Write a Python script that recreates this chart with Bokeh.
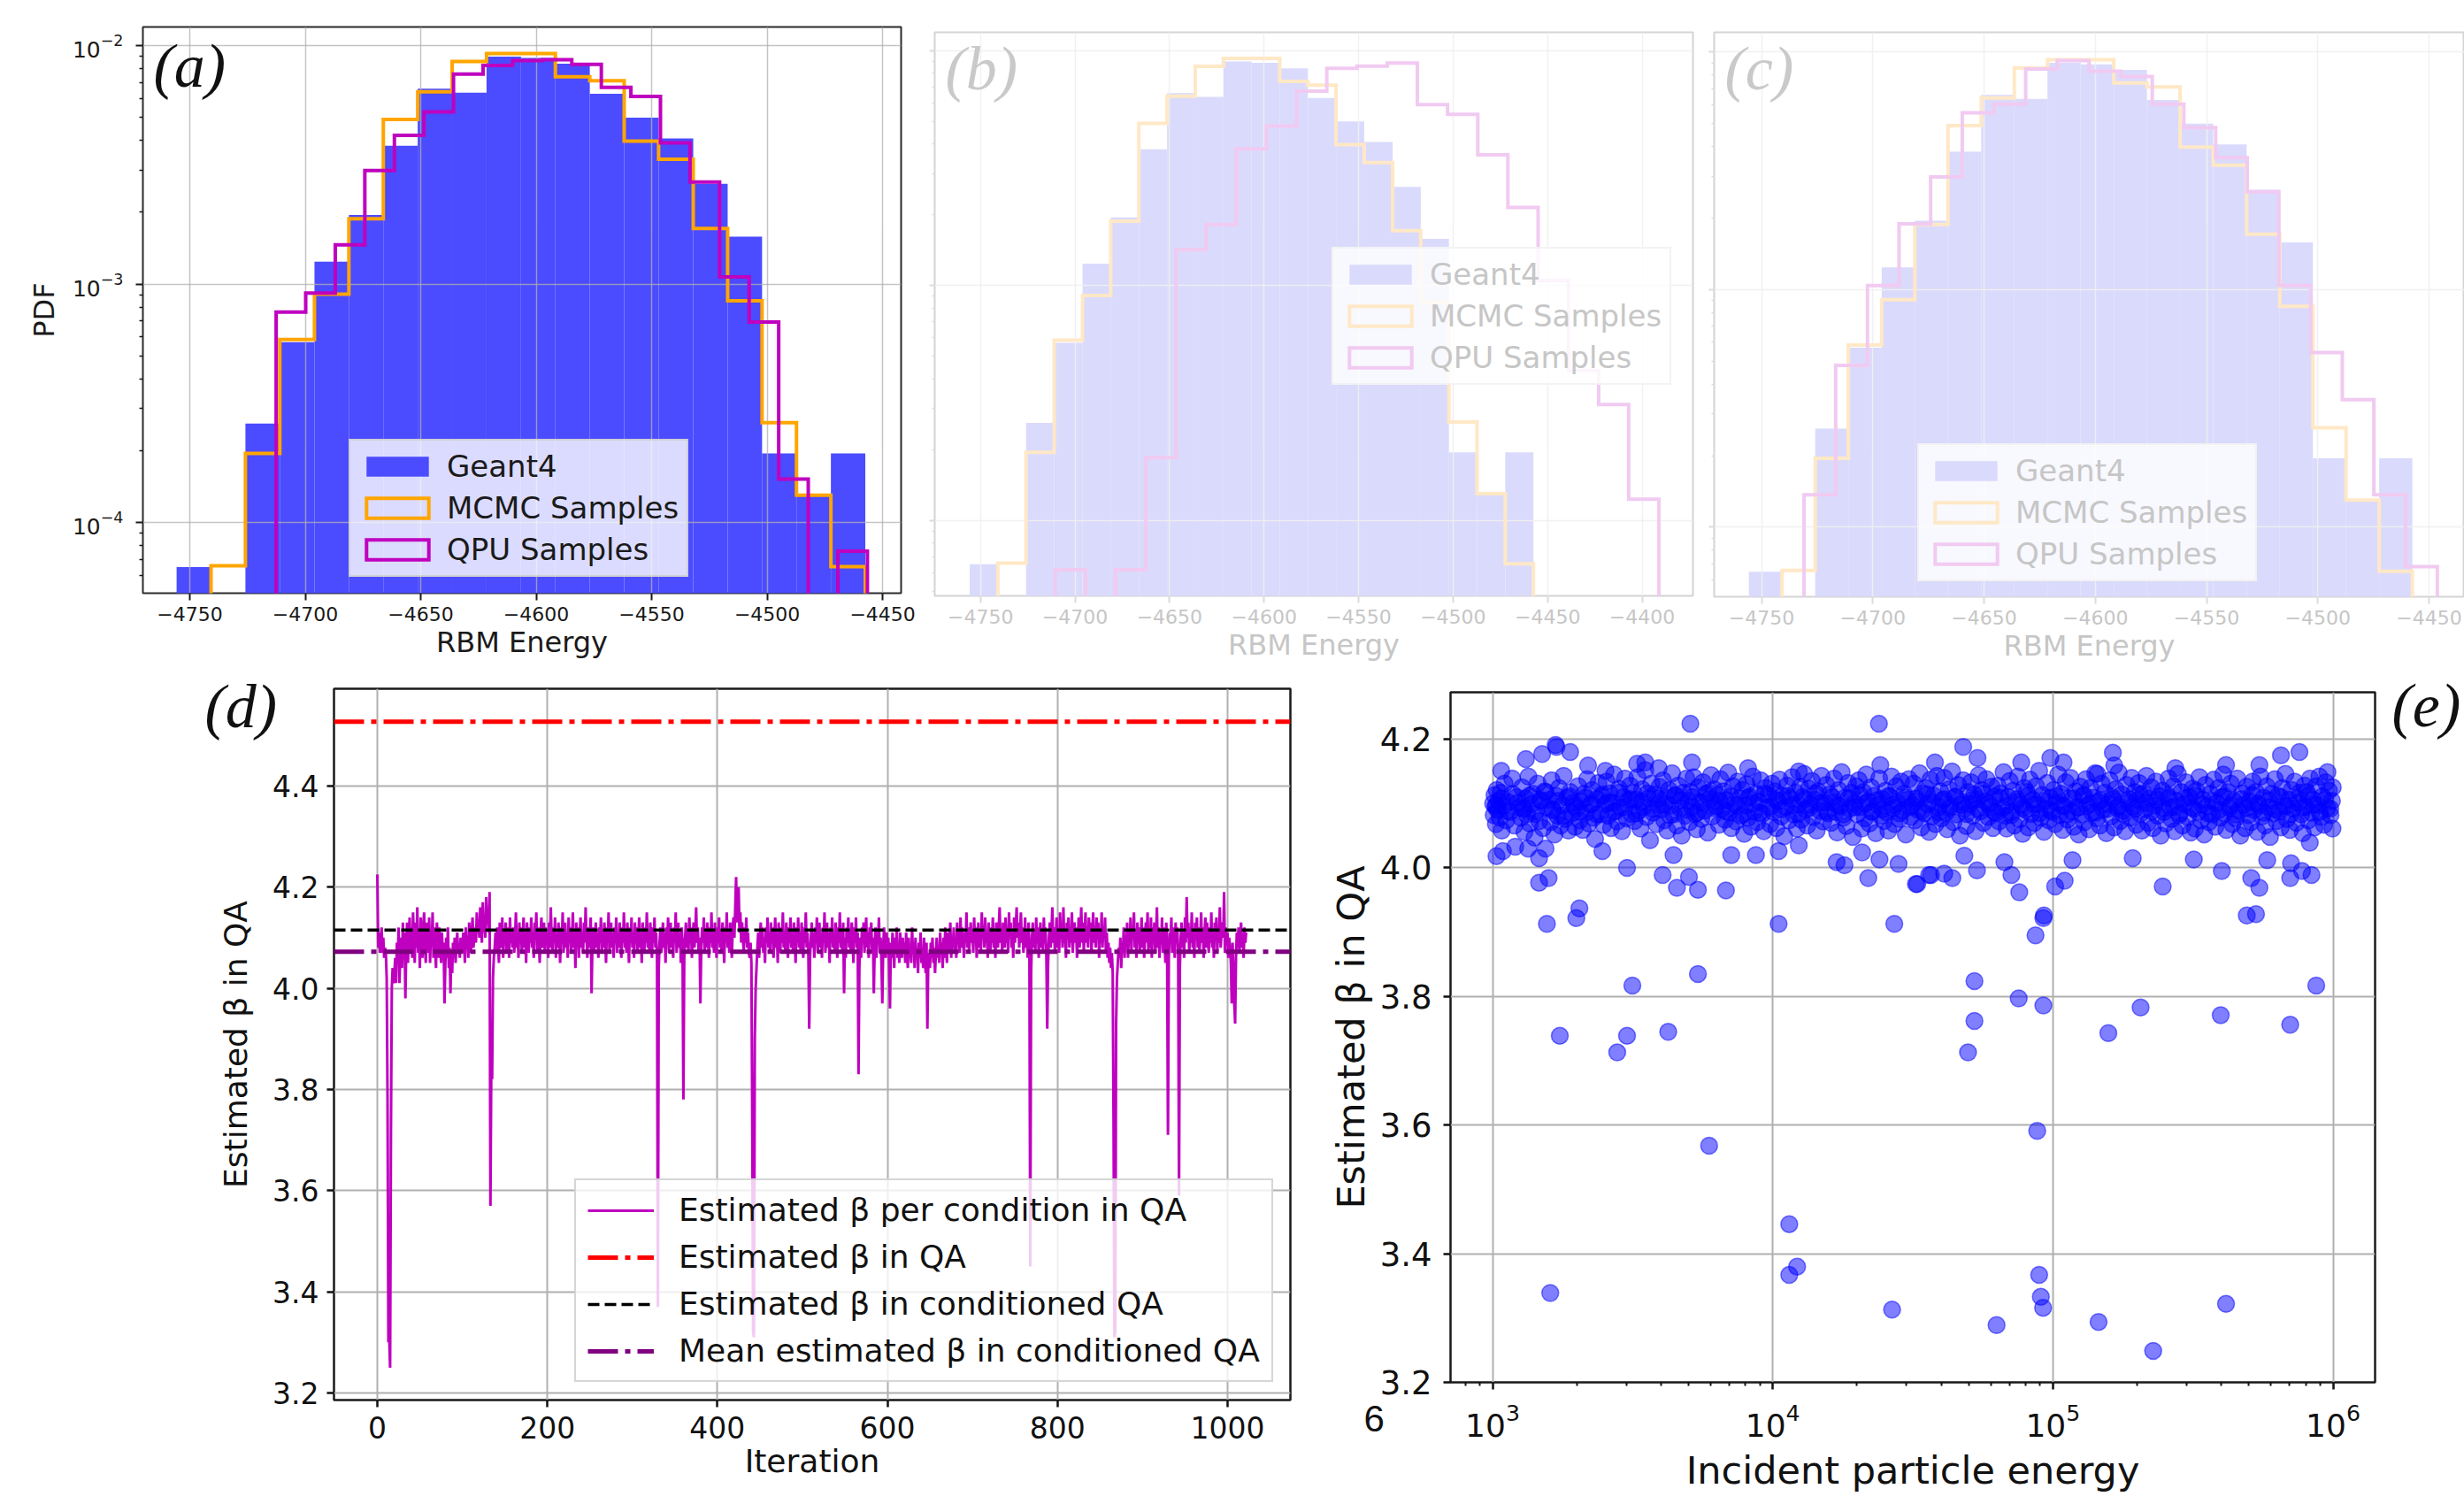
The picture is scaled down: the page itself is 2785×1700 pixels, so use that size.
from bokeh.plotting import figure
from bokeh.models import (ColumnDataSource, Range1d, FixedTicker, Label, Legend,
                          LegendItem, NumeralTickFormatter)
from bokeh.layouts import row, column
from bokeh.embed import file_html
from bokeh.resources import INLINE

# ---------------------------------------------------------------- data
geant4_edges = [-4755.7, -4740.8, -4725.9, -4711.0, -4696.0, -4681.1, -4666.2, -4651.3,
                -4636.4, -4621.5, -4606.6, -4591.7, -4576.8, -4561.9, -4547.0, -4532.0,
                -4517.1, -4502.2, -4487.3, -4472.4, -4457.5]
geant4_pdf = [6.5e-5, 0, 2.6e-4, 5.7e-4, 1.24e-3, 1.95e-3, 3.8e-3, 6.6e-3, 6.35e-3, 9.0e-3,
              8.87e-3, 8.4e-3, 6.28e-3, 4.99e-3, 4.08e-3, 2.63e-3, 1.58e-3, 1.95e-4, 1.30e-4, 1.95e-4]
mcmc_pdf = [0, 6.58e-5, 1.95e-4, 5.85e-4, 9.06e-4, 1.88e-3, 4.9e-3, 6.4e-3, 8.57e-3, 9.27e-3,
            9.27e-3, 7.4e-3, 7.13e-3, 3.98e-3, 3.34e-3, 1.71e-3, 8.5e-4, 2.62e-4, 1.30e-4, 6.53e-5]

qpu_a_edges = [-4712.6, -4699.8, -4687.0, -4674.2, -4661.4, -4648.6, -4635.8, -4623.0, -4610.2,
               -4597.4, -4584.6, -4571.8, -4559.0, -4546.2, -4533.4, -4520.6, -4507.8, -4495.0,
               -4482.2, -4469.4, -4456.6]
qpu_a_pdf = [7.63e-4, 9.16e-4, 1.46e-3, 2.99e-3, 4.20e-3, 5.27e-3, 7.59e-3, 8.26e-3, 8.66e-3, 8.72e-3,
             8.34e-3, 6.68e-3, 6.12e-3, 3.91e-3, 2.68e-3, 1.07e-3, 6.93e-4, 1.52e-4, 0, 7.57e-5]

qpu_b_edges = [-4710.5, -4694.5, -4678.6, -4662.6, -4646.6, -4630.7, -4614.7, -4598.7, -4582.7,
               -4566.8, -4550.8, -4534.8, -4518.9, -4502.9, -4486.9, -4471.0, -4455.0, -4439.0,
               -4423.0, -4407.1, -4391.1]
qpu_b_pdf = [6.16e-5, 0, 6.16e-5, 1.85e-4, 1.42e-3, 1.82e-3, 3.82e-3, 4.77e-3, 6.73e-3, 8.41e-3,
             8.59e-3, 8.85e-3, 5.89e-3, 5.35e-3, 3.60e-3, 2.15e-3, 1.05e-3, 4.35e-4, 3.11e-4, 1.23e-4]

qpu_c_edges = [-4730.9, -4716.7, -4702.4, -4688.2, -4674.0, -4659.8, -4645.5, -4631.3, -4617.1,
               -4602.8, -4588.6, -4574.4, -4560.2, -4545.9, -4531.7, -4517.5, -4503.2, -4489.0,
               -4474.8, -4460.6, -4446.3]
qpu_c_pdf = [1.37e-4, 4.8e-4, 1.04e-3, 1.89e-3, 2.98e-3, 5.55e-3, 6.03e-3, 8.47e-3, 9.2e-3, 8.3e-3,
             7.89e-3, 6.03e-3, 4.8e-3, 3.59e-3, 2.58e-3, 1.04e-3, 5.43e-4, 3.44e-4, 1.37e-4, 6.82e-5]

hist_labels = ["Geant4", "MCMC Samples", "QPU Samples"]
energy_ticks_a = [-4750, -4700, -4650, -4600, -4550, -4500, -4450]
energy_ticks_b = [-4750, -4700, -4650, -4600, -4550, -4500, -4450, -4400]
pdf_ticks = [1e-4, 1e-3, 1e-2]

# panel (d)
beta_qa = 4.527
beta_conditioned_qa = 4.115
beta_mean_conditioned = 4.072
beta_per_condition = [
    4.225, 4.08, 4.11, 4.07, 4.09, 4.12, 4.07, 4.10, 4.06, 4.08, 4.07, 4.02, 3.78, 3.30, 3.31, 3.25, 3.72, 4.00, 4.04, 4.01,
    4.03, 4.06, 4.01, 4.09, 4.05, 4.12, 4.01, 4.07, 4.10, 4.04, 4.13, 4.06, 4.11, 3.98, 4.08, 4.13, 4.05, 4.10, 4.14, 4.07,
    4.12, 4.06, 4.15, 4.09, 4.05, 4.13, 4.08, 4.16, 4.07, 4.11, 4.04, 4.14, 4.09, 4.06, 4.12, 4.15, 4.08, 4.05, 4.13, 4.10,
    4.07, 4.14, 4.05, 4.11, 4.09, 4.15, 4.06, 4.12, 4.08, 4.04, 4.13, 4.10, 4.06, 4.12, 4.08, 4.05, 4.11, 4.07, 4.09, 3.97,
    4.05, 4.10, 4.06, 4.12, 4.04, 4.08, 3.99, 4.07, 4.03, 4.09, 4.06, 4.10, 4.05, 4.08, 4.11, 4.07, 4.09, 4.06, 4.10, 4.08,
    4.07, 4.11, 4.09, 4.05, 4.12, 4.08, 4.10, 4.06, 4.13, 4.09, 4.07, 4.11, 4.14, 4.08, 4.10, 4.12, 4.09, 4.15, 4.11, 4.13,
    4.10, 4.16, 4.12, 4.09, 4.17, 4.11, 4.14, 4.10, 4.18, 4.13, 4.15, 4.11, 4.19, 3.57, 3.84, 3.82, 4.02, 4.06, 4.08, 4.11,
    4.07, 4.12, 4.09, 4.05, 4.13, 4.10, 4.08, 4.14, 4.06, 4.11, 4.09, 4.13, 4.07, 4.12, 4.10, 4.06, 4.14, 4.09, 4.11, 4.08,
    4.12, 4.07, 4.10, 4.15, 4.08, 4.11, 4.06, 4.13, 4.09, 4.12, 4.07, 4.10, 4.14, 4.08, 4.11, 4.05, 4.13, 4.10, 4.07, 4.12,
    4.09, 4.14, 4.08, 4.11, 4.06, 4.13, 4.10, 4.15, 4.07, 4.12, 4.09, 4.05, 4.11, 4.14, 4.08, 4.10, 4.13, 4.07, 4.12, 4.09,
    4.11, 4.06, 4.13, 4.08, 4.16, 4.10, 4.07, 4.12, 4.09, 4.14, 4.06, 4.11, 4.08, 4.13, 4.10, 4.05, 4.12, 4.09, 4.15, 4.07,
    4.10, 4.13, 4.08, 4.11, 4.06, 4.14, 4.09, 4.12, 4.07, 4.10, 4.15, 4.08, 4.11, 4.04, 4.13, 4.09, 4.12, 4.06, 4.10, 4.14,
    4.08, 4.11, 4.07, 4.13, 4.09, 4.16, 4.10, 4.06, 4.12, 4.08, 4.11, 4.14, 3.99, 4.09, 4.12, 4.07, 4.10, 4.13, 4.08, 4.11,
    4.06, 4.12, 4.09, 4.14, 4.07, 4.11, 4.08, 4.13, 4.10, 4.05, 4.12, 4.09, 4.15, 4.07, 4.10, 4.13, 4.08, 4.11, 4.06, 4.12,
    4.09, 4.14, 4.07, 4.11, 4.08, 4.13, 4.10, 4.06, 4.12, 4.09, 4.15, 4.08, 4.11, 4.07, 4.13, 4.10, 4.05, 4.12, 4.09, 4.14,
    4.08, 4.11, 4.06, 4.13, 4.09, 4.12, 4.07, 4.10, 4.14, 4.08, 4.11, 4.05, 4.13, 4.10, 4.07, 4.12, 4.09, 4.15, 4.08, 4.11,
    4.07, 4.13, 4.10, 4.06, 4.12, 4.09, 4.14, 4.08, 4.11, 4.06, 3.37, 4.04, 4.09, 4.12, 4.07, 4.10, 4.13, 4.08, 4.11, 4.05,
    4.12, 4.09, 4.14, 4.07, 4.10, 4.13, 4.08, 4.11, 4.06, 4.12, 4.09, 4.15, 4.07, 4.10, 4.13, 4.08, 4.11, 4.05, 4.12, 4.09,
    3.78, 4.06, 4.10, 4.13, 4.08, 4.11, 4.07, 4.14, 4.09, 4.12, 4.06, 4.10, 4.13, 4.08, 4.11, 4.16, 4.09, 4.12, 4.07, 4.10,
    3.97, 4.08, 4.12, 4.09, 4.14, 4.07, 4.11, 4.08, 4.13, 4.10, 4.06, 4.12, 4.09, 4.15, 4.08, 4.11, 4.07, 4.13, 4.10, 4.06,
    4.12, 4.09, 4.14, 4.08, 4.11, 4.07, 4.13, 4.10, 4.05, 4.12, 4.09, 4.15, 4.08, 4.11, 4.07, 4.13, 4.10, 4.06, 4.12, 4.14,
    4.10, 4.16, 4.22, 4.13, 4.18, 4.20, 4.11, 4.15, 4.09, 4.13, 4.10, 4.07, 4.12, 4.09, 4.14, 4.08, 4.11, 4.07, 4.06, 4.09,
    4.05, 3.75, 3.32, 3.31, 3.90, 4.00, 4.04, 4.08, 4.11, 4.06, 4.10, 4.13, 4.08, 4.12, 4.07, 4.10, 4.05, 4.12, 4.09, 4.14,
    4.08, 4.11, 4.07, 4.13, 4.09, 4.12, 4.06, 4.10, 4.14, 4.08, 4.11, 4.05, 4.13, 4.10, 4.07, 4.12, 4.09, 4.15, 4.08, 4.11,
    4.07, 4.13, 4.10, 4.06, 4.12, 4.09, 4.14, 4.08, 4.11, 4.07, 4.13, 4.10, 4.05, 4.12, 4.09, 4.14, 4.08, 4.11, 4.07, 4.13,
    4.10, 4.06, 4.12, 4.09, 4.15, 4.08, 4.11, 4.07, 3.92, 4.06, 4.10, 4.13, 4.08, 4.11, 4.06, 4.12, 4.09, 4.14, 4.07, 4.10,
    4.13, 4.08, 4.11, 4.06, 4.12, 4.09, 4.15, 4.07, 4.10, 4.13, 4.08, 4.11, 4.05, 4.12, 4.09, 4.14, 4.08, 4.11, 4.07, 4.13,
    4.10, 4.06, 4.12, 4.09, 4.15, 4.08, 4.11, 4.07, 4.13, 3.99, 4.10, 4.06, 4.12, 4.09, 4.14, 4.08, 4.11, 4.07, 4.13, 4.10,
    4.05, 4.12, 4.09, 4.14, 4.08, 4.11, 3.83, 4.04, 4.10, 4.06, 4.12, 4.09, 4.13, 4.07, 4.10, 4.14, 4.08, 4.11, 4.06, 4.12,
    4.09, 4.13, 4.07, 4.10, 3.99, 4.08, 4.12, 4.06, 4.11, 4.09, 4.14, 4.07, 4.10, 4.05, 3.97, 4.08, 4.12, 4.09, 4.06, 4.11,
    4.07, 4.10, 4.05, 3.96, 4.09, 4.06, 4.11, 4.08, 4.04, 4.10, 4.07, 4.12, 4.06, 4.09, 4.05, 4.11, 4.08, 4.06, 4.10, 4.07,
    4.09, 4.05, 4.11, 4.07, 4.04, 4.10, 4.06, 4.08, 4.05, 4.12, 4.07, 4.09, 4.04, 4.10, 4.06, 4.08, 4.03, 4.09, 4.06, 4.11,
    4.05, 4.08, 4.04, 4.10, 4.06, 4.03, 4.09, 3.92, 4.05, 4.07, 4.04, 4.09, 4.06, 4.10, 4.05, 4.08, 4.03, 4.07, 4.10, 4.06,
    4.08, 4.05, 4.11, 4.07, 4.09, 4.04, 4.10, 4.06, 4.12, 4.08, 4.05, 4.11, 4.07, 4.09, 4.13, 4.06, 4.10, 4.08, 4.12, 4.07,
    4.10, 4.06, 4.13, 4.09, 4.11, 4.07, 4.14, 4.08, 4.12, 4.10, 4.06, 4.11, 4.09, 4.15, 4.08, 4.12, 4.07, 4.10, 4.13, 4.09,
    4.11, 4.07, 4.14, 4.09, 4.12, 4.06, 4.10, 4.13, 4.08, 4.11, 4.07, 4.15, 4.10, 4.12, 4.08, 4.14, 4.09, 4.11, 4.06, 4.13,
    4.10, 4.07, 4.12, 4.09, 4.14, 4.08, 4.11, 4.06, 4.13, 4.10, 4.08, 4.12, 4.16, 4.09, 4.11, 4.07, 4.13, 4.10, 4.08, 4.14,
    4.09, 4.12, 4.07, 4.15, 4.10, 4.13, 4.08, 4.11, 4.06, 4.14, 4.09, 4.12, 4.16, 4.10, 4.13, 4.08, 4.11, 4.15, 4.09, 4.12,
    4.07, 4.10, 4.14, 4.08, 4.11, 4.06, 4.13, 4.09, 3.45, 4.03, 4.10, 4.13, 4.08, 4.11, 4.07, 4.14, 4.09, 4.12, 4.06, 4.10,
    4.13, 4.08, 4.11, 4.07, 4.14, 4.09, 4.12, 4.06, 3.92, 4.05, 4.10, 4.13, 4.08, 4.11, 4.16, 4.09, 4.12, 4.07, 4.10, 4.14,
    4.08, 4.11, 4.07, 4.15, 4.10, 4.12, 4.08, 4.16, 4.09, 4.11, 4.06, 4.13, 4.10, 4.14, 4.08, 4.12, 4.09, 4.15, 4.07, 4.11,
    4.13, 4.09, 4.12, 4.06, 4.10, 4.14, 4.08, 4.11, 4.16, 4.09, 4.13, 4.07, 4.11, 4.15, 4.09, 4.12, 4.08, 4.14, 4.10, 4.13,
    4.07, 4.11, 4.15, 4.09, 4.12, 4.08, 4.14, 4.10, 4.13, 4.06, 4.11, 4.09, 4.15, 4.08, 4.12, 4.10, 4.14, 4.07, 4.11, 4.06,
    4.09, 4.05, 4.08, 4.04, 4.07, 4.03, 3.74, 3.31, 3.32, 3.93, 4.02, 4.05, 4.08, 4.06, 4.10, 4.04, 4.09, 4.07, 4.12, 4.06,
    4.10, 4.08, 4.13, 4.06, 4.11, 4.09, 4.14, 4.07, 4.12, 4.10, 4.15, 4.08, 4.11, 4.06, 4.13, 4.09, 4.12, 4.07, 4.10, 4.14,
    4.08, 4.12, 4.06, 4.10, 4.13, 4.09, 4.15, 4.07, 4.11, 4.08, 4.14, 4.06, 4.12, 4.09, 4.13, 4.07, 4.10, 4.16, 4.08, 4.12,
    4.06, 4.11, 4.09, 4.14, 4.07, 4.12, 4.10, 4.05, 4.13, 4.08, 3.71, 4.06, 4.11, 4.09, 4.14, 4.07, 4.12, 4.10, 4.06, 4.13,
    4.09, 4.12, 4.07, 3.59, 4.04, 4.10, 4.13, 4.08, 4.11, 4.06, 4.14, 4.09, 4.18, 4.10, 4.13, 4.07, 4.12, 4.09, 4.15, 4.08,
    4.11, 4.06, 4.13, 4.10, 4.14, 4.08, 4.12, 4.07, 4.10, 4.15, 4.09, 4.12, 4.06, 4.11, 4.14, 4.08, 4.13, 4.10, 4.07, 4.12,
    4.09, 4.15, 4.08, 4.11, 4.06, 4.13, 4.10, 4.14, 4.07, 4.12, 4.09, 4.16, 4.08, 4.11, 4.13, 4.10, 4.19, 4.07, 4.12, 4.09,
    4.11, 4.06, 4.10, 4.08, 4.05, 3.97, 4.09, 4.04, 3.97, 3.93, 4.06, 4.11, 4.08, 4.12, 4.07, 4.10, 4.13, 4.08, 4.11, 4.06,
    4.12, 4.09, 4.11,
]
iteration_limits = (-51, 1074)
iteration_ticks = [0, 200, 400, 600, 800, 1000]
beta_ticks = [3.2, 3.4, 3.6, 3.8, 4.0, 4.2, 4.4]
d_labels = ["Estimated \u03b2 per condition in QA", "Estimated \u03b2 in QA",
            "Estimated \u03b2 in conditioned QA", "Mean estimated \u03b2 in conditioned QA"]

# panel (e): (log10 incident energy, estimated beta)
band_points = [
    (3.002,4.100),(3.004,4.082),(3.007,4.113),(3.010,4.095),(3.012,4.068),(3.015,4.121),(3.018,4.090),(3.021,4.104),(3.025,4.078),(3.029,4.117),(3.033,4.058),(3.038,4.096),(3.043,4.131),(3.049,4.074),(3.055,4.102),(3.062,4.087),(3.070,4.139),(3.078,4.066),(3.086,4.110),(3.094,4.093),
    (3.101,4.078),(3.105,4.125),(3.109,4.091),(3.114,4.056),(3.118,4.108),(3.123,4.083),(3.128,4.142),(3.133,4.069),(3.139,4.099),(3.144,4.115),(3.150,4.047),(3.155,4.088),(3.161,4.131),(3.167,4.073),(3.173,4.104),(3.180,4.062),(3.186,4.119),(3.193,4.094),
    (3.202,4.106),(3.207,4.071),(3.211,4.136),(3.216,4.089),(3.221,4.052),(3.226,4.112),(3.232,4.081),(3.237,4.124),(3.243,4.066),(3.248,4.097),(3.254,4.143),(3.259,4.076),(3.265,4.109),(3.271,4.058),(3.277,4.118),(3.283,4.085),(3.289,4.101),(3.295,4.064),
    (3.301,4.092),(3.306,4.127),(3.311,4.074),(3.316,4.103),(3.322,4.059),(3.327,4.115),(3.333,4.086),(3.338,4.138),(3.344,4.069),(3.349,4.098),(3.355,4.121),(3.361,4.078),(3.366,4.045),(3.372,4.107),(3.378,4.132),(3.384,4.083),(3.390,4.111),(3.396,4.067),
    (3.403,4.099),(3.407,4.134),(3.412,4.081),(3.418,4.116),(3.423,4.062),(3.428,4.101),(3.434,4.145),(3.439,4.088),(3.445,4.072),(3.451,4.123),(3.456,4.094),(3.462,4.057),(3.468,4.110),(3.473,4.139),(3.479,4.077),(3.485,4.105),(3.491,4.128),(3.497,4.084),
    (3.502,4.117),(3.507,4.073),(3.512,4.106),(3.517,4.141),(3.523,4.089),(3.528,4.061),(3.534,4.122),(3.539,4.095),(3.545,4.152),(3.550,4.079),(3.556,4.108),(3.562,4.043),(3.567,4.131),(3.573,4.086),(3.579,4.114),(3.585,4.068),(3.590,4.099),(3.596,4.126),
    (3.603,4.091),(3.608,4.136),(3.613,4.074),(3.619,4.109),(3.624,4.058),(3.630,4.121),(3.635,4.097),(3.641,4.147),(3.646,4.083),(3.652,4.112),(3.658,4.066),(3.663,4.128),(3.669,4.093),(3.675,4.050),(3.681,4.117),(3.686,4.081),(3.692,4.139),(3.698,4.104),
    (3.702,4.071),(3.707,4.118),(3.712,4.095),(3.718,4.141),(3.723,4.084),(3.729,4.060),(3.734,4.125),(3.740,4.102),(3.745,4.076),(3.751,4.133),(3.757,4.089),(3.762,4.115),(3.768,4.055),(3.774,4.107),(3.780,4.144),(3.785,4.080),(3.791,4.122),(3.797,4.096),
    (3.803,4.113),(3.808,4.067),(3.813,4.138),(3.819,4.092),(3.824,4.119),(3.830,4.075),(3.835,4.105),(3.841,4.148),(3.846,4.086),(3.852,4.062),(3.858,4.127),(3.863,4.099),(3.869,4.072),(3.875,4.134),(3.881,4.108),(3.886,4.081),(3.892,4.121),(3.898,4.053),
    (3.902,4.097),(3.907,4.130),(3.912,4.078),(3.918,4.111),(3.923,4.064),(3.929,4.142),(3.934,4.088),(3.940,4.116),(3.945,4.071),(3.951,4.103),(3.957,4.136),(3.962,4.084),(3.968,4.057),(3.974,4.124),(3.980,4.095),(3.985,4.113),(3.991,4.068),(3.997,4.131),
    (4.003,4.087),(4.008,4.119),(4.013,4.062),(4.019,4.104),(4.024,4.137),(4.030,4.080),(4.035,4.112),(4.041,4.049),(4.046,4.095),(4.052,4.128),(4.058,4.074),(4.063,4.108),(4.069,4.141),(4.075,4.083),(4.081,4.117),(4.086,4.061),(4.092,4.099),(4.098,4.126),
    (4.102,4.075),(4.107,4.110),(4.112,4.146),(4.118,4.091),(4.123,4.066),(4.129,4.123),(4.134,4.098),(4.140,4.135),(4.145,4.079),(4.151,4.106),(4.157,4.058),(4.162,4.119),(4.168,4.089),(4.174,4.143),(4.180,4.072),(4.185,4.101),(4.191,4.129),(4.197,4.085),
    (4.203,4.114),(4.208,4.070),(4.213,4.102),(4.219,4.139),(4.224,4.087),(4.230,4.055),(4.235,4.121),(4.241,4.096),(4.246,4.149),(4.252,4.078),(4.258,4.109),(4.263,4.065),(4.269,4.132),(4.275,4.092),(4.281,4.117),(4.286,4.048),(4.292,4.100),(4.298,4.127),
    (4.302,4.083),(4.307,4.136),(4.312,4.094),(4.318,4.061),(4.323,4.118),(4.329,4.077),(4.334,4.145),(4.340,4.103),(4.345,4.069),(4.351,4.125),(4.357,4.088),(4.362,4.112),(4.368,4.054),(4.374,4.098),(4.380,4.139),(4.385,4.081),(4.391,4.107),(4.397,4.073),
    (4.403,4.120),(4.408,4.086),(4.413,4.058),(4.419,4.111),(4.424,4.142),(4.430,4.093),(4.435,4.068),(4.441,4.127),(4.446,4.101),(4.452,4.076),(4.458,4.134),(4.463,4.089),(4.469,4.115),(4.475,4.052),(4.481,4.106),(4.486,4.138),(4.492,4.079),(4.498,4.097),
    (4.503,4.131),(4.508,4.074),(4.513,4.108),(4.519,4.090),(4.524,4.147),(4.530,4.063),(4.535,4.116),(4.541,4.085),(4.546,4.124),(4.552,4.099),(4.558,4.056),(4.563,4.137),(4.569,4.080),(4.575,4.112),(4.581,4.068),(4.586,4.143),(4.592,4.094),(4.598,4.119),
    (4.602,4.077),(4.607,4.105),(4.612,4.140),(4.618,4.086),(4.623,4.060),(4.629,4.122),(4.634,4.097),(4.640,4.150),(4.645,4.071),(4.651,4.110),(4.657,4.083),(4.662,4.129),(4.668,4.050),(4.674,4.102),(4.680,4.136),(4.685,4.092),(4.691,4.065),(4.697,4.118),
    (4.703,4.099),(4.708,4.133),(4.713,4.081),(4.719,4.114),(4.724,4.057),(4.730,4.107),(4.735,4.144),(4.741,4.088),(4.746,4.121),(4.752,4.070),(4.758,4.103),(4.763,4.138),(4.769,4.079),(4.775,4.095),(4.781,4.126),(4.786,4.062),(4.792,4.111),(4.798,4.085),
    (4.803,4.128),(4.808,4.072),(4.813,4.116),(4.819,4.093),(4.824,4.149),(4.830,4.081),(4.835,4.061),(4.841,4.110),(4.846,4.135),(4.852,4.087),(4.858,4.120),(4.863,4.066),(4.869,4.102),(4.875,4.142),(4.881,4.076),(4.886,4.098),(4.892,4.053),(4.898,4.124),
    (4.902,4.090),(4.907,4.118),(4.912,4.063),(4.918,4.137),(4.923,4.084),(4.929,4.106),(4.934,4.070),(4.940,4.127),(4.945,4.099),(4.951,4.151),(4.957,4.078),(4.962,4.113),(4.968,4.056),(4.974,4.092),(4.980,4.132),(4.985,4.074),(4.991,4.109),(4.997,4.087),
    (5.003,4.121),(5.008,4.068),(5.013,4.101),(5.019,4.145),(5.024,4.082),(5.030,4.115),(5.035,4.059),(5.041,4.096),(5.046,4.133),(5.052,4.075),(5.058,4.108),(5.063,4.140),(5.069,4.088),(5.075,4.064),(5.081,4.119),(5.086,4.094),(5.092,4.052),(5.098,4.126),
    (5.102,4.083),(5.107,4.112),(5.112,4.071),(5.118,4.138),(5.123,4.097),(5.129,4.060),(5.134,4.124),(5.140,4.086),(5.145,4.109),(5.151,4.147),(5.157,4.077),(5.162,4.103),(5.168,4.066),(5.174,4.131),(5.180,4.091),(5.185,4.117),(5.191,4.054),(5.197,4.099),
    (5.203,4.136),(5.208,4.080),(5.213,4.107),(5.219,4.063),(5.224,4.122),(5.230,4.093),(5.235,4.148),(5.241,4.073),(5.246,4.114),(5.252,4.089),(5.258,4.057),(5.263,4.129),(5.269,4.102),(5.275,4.078),(5.281,4.140),(5.286,4.095),(5.292,4.118),(5.298,4.067),
    (5.302,4.105),(5.307,4.132),(5.312,4.084),(5.318,4.058),(5.323,4.116),(5.329,4.091),(5.334,4.143),(5.340,4.070),(5.345,4.108),(5.351,4.125),(5.357,4.062),(5.362,4.097),(5.368,4.134),(5.374,4.081),(5.380,4.111),(5.385,4.050),(5.391,4.120),(5.397,4.087),
    (5.403,4.069),(5.408,4.113),(5.413,4.139),(5.419,4.094),(5.424,4.076),(5.430,4.127),(5.435,4.057),(5.441,4.104),(5.446,4.146),(5.452,4.085),(5.458,4.118),(5.463,4.066),(5.469,4.099),(5.475,4.133),(5.481,4.079),(5.486,4.110),(5.492,4.055),(5.498,4.123),
    (5.502,4.092),(5.507,4.061),(5.512,4.120),(5.518,4.087),(5.523,4.141),(5.529,4.074),(5.534,4.106),(5.540,4.052),(5.545,4.129),(5.551,4.096),(5.557,4.071),(5.562,4.115),(5.568,4.083),(5.574,4.137),(5.580,4.064),(5.585,4.101),(5.591,4.124),(5.597,4.078),
    (5.603,4.110),(5.608,4.145),(5.613,4.085),(5.619,4.059),(5.624,4.118),(5.630,4.093),(5.635,4.131),(5.641,4.068),(5.646,4.104),(5.652,4.077),(5.658,4.139),(5.663,4.089),(5.669,4.050),(5.675,4.116),(5.681,4.098),(5.686,4.062),(5.692,4.126),(5.698,4.082),
    (5.703,4.103),(5.708,4.071),(5.713,4.134),(5.719,4.090),(5.724,4.118),(5.730,4.056),(5.735,4.097),(5.741,4.142),(5.746,4.080),(5.752,4.109),(5.758,4.066),(5.763,4.127),(5.769,4.094),(5.775,4.048),(5.781,4.115),(5.786,4.085),(5.792,4.138),(5.798,4.073),
    (5.803,4.112),(5.808,4.088),(5.813,4.063),(5.819,4.124),(5.824,4.097),(5.830,4.146),(5.835,4.076),(5.841,4.106),(5.846,4.059),(5.852,4.121),(5.858,4.092),(5.863,4.134),(5.869,4.070),(5.875,4.101),(5.881,4.117),(5.886,4.083),(5.892,4.054),(5.898,4.128),
    (5.902,4.095),(5.907,4.118),(5.912,4.074),(5.918,4.139),(5.923,4.086),(5.929,4.106),(5.934,4.063),(5.940,4.127),(5.945,4.098),(5.951,4.142),(5.957,4.079),(5.962,4.111),(5.968,4.067),(5.974,4.133),(5.980,4.093),(5.985,4.120),(5.991,4.082),(5.996,4.104),(5.999,4.125),(5.998,4.061),
]
band_core_points = [
    (3.013,4.097),(3.032,4.108),(3.051,4.089),(3.071,4.115),(3.090,4.101),(3.112,4.093),(3.131,4.112),(3.152,4.084),(3.171,4.106),(3.190,4.118),
    (3.213,4.091),(3.233,4.104),(3.252,4.081),(3.273,4.111),(3.292,4.096),(3.313,4.087),(3.332,4.109),(3.353,4.099),(3.372,4.083),(3.392,4.114),
    (3.414,4.102),(3.433,4.088),(3.452,4.117),(3.472,4.094),(3.493,4.107),(3.513,4.085),(3.532,4.103),(3.553,4.116),(3.571,4.092),(3.592,4.108),
    (3.612,4.099),(3.633,4.082),(3.651,4.113),(3.672,4.105),(3.691,4.090),(3.713,4.110),(3.731,4.086),(3.752,4.101),(3.771,4.117),(3.792,4.093),
    (3.811,4.104),(3.832,4.088),(3.851,4.111),(3.872,4.097),(3.893,4.083),(3.913,4.109),(3.932,4.100),(3.953,4.086),(3.971,4.115),(3.992,4.095),
    (4.012,4.106),(4.031,4.091),(4.053,4.112),(4.072,4.098),(4.091,4.084),(4.113,4.107),(4.132,4.093),(4.153,4.116),(4.171,4.101),(4.192,4.088),
    (4.212,4.110),(4.233,4.097),(4.252,4.083),(4.271,4.108),(4.293,4.094),(4.311,4.113),(4.332,4.100),(4.353,4.087),(4.372,4.105),(4.392,4.091),
    (4.413,4.112),(4.431,4.098),(4.452,4.085),(4.473,4.109),(4.491,4.095),(4.512,4.104),(4.533,4.089),(4.551,4.114),(4.572,4.101),(4.593,4.086),
    (4.611,4.107),(4.632,4.093),(4.653,4.111),(4.671,4.098),(4.692,4.084),(4.713,4.106),(4.732,4.092),(4.751,4.115),(4.772,4.100),(4.791,4.087),
    (4.812,4.109),(4.833,4.096),(4.851,4.082),(4.872,4.107),(4.893,4.093),(4.911,4.112),(4.932,4.099),(4.953,4.085),(4.971,4.104),(4.992,4.090),
    (5.013,4.111),(5.032,4.097),(5.051,4.083),(5.072,4.108),(5.093,4.094),(5.111,4.113),(5.132,4.100),(5.153,4.086),(5.171,4.105),(5.192,4.091),
    (5.212,4.110),(5.233,4.096),(5.251,4.084),(5.272,4.107),(5.293,4.092),(5.311,4.114),(5.332,4.101),(5.353,4.088),(5.371,4.106),(5.392,4.093),
    (5.413,4.109),(5.432,4.095),(5.451,4.082),(5.472,4.108),(5.493,4.094),(5.511,4.112),(5.532,4.099),(5.553,4.085),(5.571,4.104),(5.592,4.090),
    (5.612,4.111),(5.633,4.097),(5.651,4.083),(5.672,4.107),(5.693,4.093),(5.711,4.113),(5.732,4.100),(5.753,4.086),(5.771,4.105),(5.792,4.091),
    (5.813,4.110),(5.832,4.096),(5.851,4.084),(5.872,4.108),(5.893,4.094),(5.912,4.112),(5.931,4.099),(5.952,4.087),(5.971,4.106),(5.990,4.092),
]
outlier_points = [
    (3.031,4.151),(3.119,4.169),(3.177,4.177),(3.225,4.191),(3.228,4.188),(3.277,4.180),(3.341,4.159),(3.403,4.151),
    (3.516,4.162),(3.545,4.164),(3.593,4.155),(3.706,4.224),(3.712,4.164),(3.912,4.155),(4.093,4.150),(4.379,4.224),
    (4.384,4.160),(3.014,4.018),(3.037,4.026),(3.081,4.033),(3.127,4.030),(3.166,4.015),(3.189,4.030),(3.166,3.977),
    (3.200,3.984),(3.194,3.913),(3.299,3.922),(3.310,3.937),(3.240,3.739),(3.206,3.339),(3.392,4.026),(3.480,4.000),
    (3.499,3.817),(3.480,3.739),(3.445,3.713),(3.627,3.745),(3.607,3.989),(3.658,3.969),(3.646,4.020),(3.701,3.986),
    (3.733,3.966),(3.733,3.835),(3.773,3.568),(3.833,3.965),(3.852,4.020),(3.940,4.020),(4.021,3.913),(4.021,4.026),
    (4.059,3.446),(4.059,3.367),(4.087,3.380),(4.093,4.035),(4.228,4.009),(4.256,4.004),(4.341,3.984),(4.319,4.024),
    (4.426,3.313),(4.434,3.913),(4.381,4.013),(4.449,4.006),(4.511,3.975),(4.565,3.989),
    (4.680,4.188),(4.579,4.164),(4.731,4.171),(4.887,4.164),(4.991,4.171),(5.038,4.164),(5.158,4.146),(5.214,4.179),
    (5.219,4.159),(5.437,4.155),(5.618,4.160),(5.737,4.160),(5.814,4.175),(5.880,4.180),(5.980,4.149),
    (4.516,3.975),(4.558,3.989),(4.612,3.991),(4.641,3.984),(4.729,3.996),(4.684,4.019),(4.827,4.009),(4.852,3.989),
    (4.880,3.962),(4.966,3.922),(4.968,3.926),(4.938,3.895),(5.008,3.971),(5.042,3.980),(5.070,4.012),(5.285,4.015),
    (5.392,3.971),(5.503,4.013),(5.603,3.995),(5.708,3.984),(5.737,3.969),(5.692,3.926),(5.725,3.928),(5.765,4.012),
    (5.847,3.984),(5.889,3.995),(5.923,3.989),(5.850,4.007),(5.917,4.039),(4.720,3.824),(4.720,3.762),(4.697,3.713),
    (4.878,3.797),(4.966,3.786),(4.944,3.591),(4.951,3.367),(4.957,3.333),(4.965,3.316),(4.799,3.289),(5.163,3.294),
    (5.358,3.249),(5.198,3.743),(5.313,3.783),(5.599,3.771),(5.618,3.322),(5.847,3.756),(5.940,3.817),
]
energy_decades = [1e3, 1e4, 1e5, 1e6]

# ---------------------------------------------------------------- helpers
SANS = "DejaVu Sans"
SERIF = "Liberation Serif"
FLOOR = 1e-7


def step_outline(edges, vals):
    """Closed outline of a step histogram (bottom edge far below the visible range)."""
    xs, ys = [edges[0]], [FLOOR]
    for i, v in enumerate(vals):
        h = v if v > 0 else FLOOR
        xs += [edges[i], edges[i + 1]]
        ys += [h, h]
    xs.append(edges[-1])
    ys.append(FLOOR)
    return xs, ys


def style_axes(p, tick_size, label_size, text_color, tick_color, tick_width=2,
               xl_standoff=6, yl_standoff=8, xa_standoff=4, ya_standoff=10):
    for ax in (p.xaxis[0], p.yaxis[0]):
        ax.axis_line_color = None
        ax.major_tick_line_color = tick_color
        ax.major_tick_line_width = tick_width
        ax.major_tick_out = 8
        ax.major_tick_in = 0
        ax.minor_tick_line_color = tick_color
        ax.minor_tick_line_width = max(1, tick_width - 0.5)
        ax.minor_tick_out = 4
        ax.minor_tick_in = 0
        ax.major_label_text_font = SANS
        ax.major_label_text_font_size = f"{tick_size}px"
        ax.major_label_text_color = text_color
        ax.axis_label_text_font = SANS
        ax.axis_label_text_font_size = f"{label_size}px"
        ax.axis_label_text_font_style = "normal"
        ax.axis_label_text_color = text_color
    p.xaxis[0].major_label_standoff = xl_standoff
    p.yaxis[0].major_label_standoff = yl_standoff
    p.xaxis[0].axis_label_standoff = xa_standoff
    p.yaxis[0].axis_label_standoff = ya_standoff


def panel_letter(text, x, y, color="#111111", units="screen"):
    return Label(x=x, y=y, x_units=units, y_units=units, text=text,
                 text_font=SERIF, text_font_style="italic", text_font_size="70px",
                 text_color=color, text_baseline="top")


def hist_panel(width, bl, br, bt, bb, xr, yr, xticks, qpu_edges, qpu_vals,
               faded, letter, legend_xy, ylabel):
    if faded:
        c_geant, c_mcmc, c_qpu = "#dadafc", "#ffe8c6", "#f1caf1"
        c_text, c_frame, c_grid, c_tick = "#c6c6c6", "#d4d4d4", "#efefef", "#dcdcdc"
        c_letter, c_lborder, grid_alpha = "#c9c9c9", "#f0f0f0", 0.9
        letter_dy = -2
    else:
        c_geant, c_mcmc, c_qpu = "#4b4bff", "#ffa500", "#bf00bf"
        c_text, c_frame, c_grid, c_tick = "#1a1a1a", "#2b2b2b", "#b0b0b0", "#1a1a1a"
        c_letter, c_lborder, grid_alpha = "#111111", "#cccccc", 0.75
        letter_dy = -5
    p = figure(width=width, height=760, y_axis_type="log",
               x_range=Range1d(*xr), y_range=Range1d(*yr),
               output_backend="svg", toolbar_location=None,
               min_border_left=bl, min_border_right=br,
               min_border_top=bt, min_border_bottom=bb)
    p.background_fill_color = "white"
    p.border_fill_color = "white"
    p.outline_line_color = c_frame
    p.outline_line_width = 2

    lefts = [geant4_edges[i] for i, v in enumerate(geant4_pdf) if v > 0]
    rights = [geant4_edges[i + 1] for i, v in enumerate(geant4_pdf) if v > 0]
    tops = [v for v in geant4_pdf if v > 0]
    rg = p.quad(left=lefts, right=rights, top=tops, bottom=[FLOOR] * len(tops),
                fill_color=c_geant, line_color=None, level="image")

    mx, my = step_outline(geant4_edges, mcmc_pdf)
    rm = p.patch(mx, my, fill_color=None, line_color=c_mcmc, line_width=4, line_join="miter")
    qx, qy = step_outline(qpu_edges, qpu_vals)
    rq = p.patch(qx, qy, fill_color=None, line_color=c_qpu, line_width=4, line_join="miter")

    p.xaxis[0].ticker = FixedTicker(ticks=xticks)
    p.xaxis[0].major_label_overrides = {t: "\u2212" + str(abs(t)) for t in xticks}
    p.yaxis[0].ticker = FixedTicker(ticks=pdf_ticks,
                                    minor_ticks=[m * d for d in [1e-5, 1e-4, 1e-3, 1e-2] for m in range(2, 10)])
    p.xaxis[0].axis_label = "RBM Energy"
    style_axes(p, 22, 32, c_text, c_tick, xl_standoff=7, yl_standoff=14,
               xa_standoff=2, ya_standoff=10)
    if ylabel:
        p.yaxis[0].axis_label = "PDF"
        p.yaxis[0].major_label_text_font_size = "25px"
    else:
        p.yaxis[0].major_label_text_alpha = 0
        p.yaxis[0].major_label_text_font_size = "1px"
        p.yaxis[0].major_label_standoff = 0
        p.yaxis[0].major_tick_out = 6
        p.yaxis[0].minor_tick_out = 3

    for g in (p.xgrid[0], p.ygrid[0]):
        g.grid_line_color = c_grid
        g.grid_line_alpha = grid_alpha
        g.grid_line_width = 1.5
        g.level = "underlay"

    legend = Legend(items=[LegendItem(label=hist_labels[0], renderers=[rg]),
                           LegendItem(label=hist_labels[1], renderers=[rm]),
                           LegendItem(label=hist_labels[2], renderers=[rq])],
                    location=legend_xy, margin=0, padding=9, spacing=7,
                    glyph_width=88, glyph_height=28, label_standoff=12,
                    label_text_font=SANS, label_text_font_size="34px",
                    label_text_color=c_text,
                    background_fill_color="white", background_fill_alpha=0.8,
                    border_line_color=c_lborder, border_line_width=2, border_line_alpha=0.8)
    p.add_layout(legend, "center")

    frame_h = 760 - bt - bb
    p.add_layout(panel_letter(letter, 12, frame_h + letter_dy, c_letter))
    return p


fa = hist_panel(1037, 161, 19, 30, 90, (-4770.3, -4442.0), (5.05e-5, 1.197e-2), energy_ticks_a,
                qpu_a_edges, qpu_a_pdf, False, "(a)", (233, 18), True)
fb = hist_panel(888, 19, 12, 36, 87, (-4774.2, -4373.1), (4.77e-5, 1.197e-2), energy_ticks_b,
                qpu_b_edges, qpu_b_pdf, True, "(b)", (449, 238), False)
fc = hist_panel(860, 12, 0, 36, 86, (-4771.3, -4434.1), (5.1e-5, 1.21e-2), energy_ticks_a,
                qpu_c_edges, qpu_c_pdf, True, "(c)", (230, 17), False)

# ---------------------------------------------------------------- panel (d)
fd = figure(width=1470, height=940, x_range=Range1d(*iteration_limits), y_range=Range1d(3.186, 4.592),
            output_backend="svg", toolbar_location=None,
            min_border_left=377, min_border_right=12, min_border_top=18, min_border_bottom=118)
fd.outline_line_color = "#1a1a1a"
fd.outline_line_width = 2.5
fd.background_fill_color = "white"
fd.border_fill_color = "white"
iterations = list(range(len(beta_per_condition)))
r_line = fd.line(iterations, beta_per_condition, line_color="#bf00bf", line_width=3)
span_x = list(iteration_limits)
lr = fd.line(span_x, [beta_qa] * 2, line_color="red", line_width=5, line_dash="34 8 6 8")
lk = fd.line(span_x, [beta_conditioned_qa] * 2, line_color="black", line_width=3.5, line_dash="13 6")
lp = fd.line(span_x, [beta_mean_conditioned] * 2, line_color="purple", line_width=5,
             line_dash="34 8 6 8")
fd.xaxis[0].ticker = FixedTicker(ticks=iteration_ticks)
fd.yaxis[0].ticker = FixedTicker(ticks=beta_ticks)
fd.yaxis[0].formatter = NumeralTickFormatter(format="0.0")
fd.xaxis[0].axis_label = "Iteration"
fd.yaxis[0].axis_label = "Estimated \u03b2 in QA"
style_axes(fd, 33, 36, "#111111", "#111111", tick_width=2.5,
           xl_standoff=10, yl_standoff=9, xa_standoff=2, ya_standoff=18)
for g in (fd.xgrid[0], fd.ygrid[0]):
    g.grid_line_color = "#b0b0b0"
    g.grid_line_width = 2
leg_d = Legend(items=[LegendItem(label=d_labels[0], renderers=[r_line]),
                      LegendItem(label=d_labels[1], renderers=[lr]),
                      LegendItem(label=d_labels[2], renderers=[lk]),
                      LegendItem(label=d_labels[3], renderers=[lp])],
               location=(272, 20), margin=0, padding=13, spacing=12,
               glyph_width=75, glyph_height=22, label_standoff=28,
               label_text_font=SANS, label_text_font_size="36px", label_text_color="#111111",
               background_fill_color="white", background_fill_alpha=0.8,
               border_line_color="#cccccc", border_line_width=2, border_line_alpha=0.8)
fd.add_layout(leg_d, "center")
# panel letter placed in the left margin, positioned through the plot's own scales
fd.add_layout(panel_letter("(d)", -203, 4.6235, units="data"), "left")

# ---------------------------------------------------------------- panel (e)
fe = figure(width=1315, height=940, x_axis_type="log",
            x_range=Range1d(10 ** 2.85, 10 ** 6.15), y_range=Range1d(3.2, 4.273),
            output_backend="svg", toolbar_location=None,
            min_border_left=169, min_border_right=101, min_border_top=22, min_border_bottom=138)
fe.outline_line_color = "#1a1a1a"
fe.outline_line_width = 2.5
fe.background_fill_color = "white"
fe.border_fill_color = "white"
pts = band_points + band_core_points + outlier_points
src_e = ColumnDataSource(data=dict(energy=[10 ** lx for lx, _ in pts], beta=[b for _, b in pts]))
fe.scatter("energy", "beta", source=src_e, size=19, fill_color="blue", fill_alpha=0.5,
           line_color="blue", line_alpha=0.5, line_width=1.5)
fe.xaxis[0].ticker = FixedTicker(ticks=energy_decades,
                                 minor_ticks=[m * d for d in [1e2, 1e3, 1e4, 1e5, 1e6] for m in range(2, 10)])
fe.yaxis[0].ticker = FixedTicker(ticks=[3.2, 3.4, 3.6, 3.8, 4.0, 4.2])
fe.yaxis[0].formatter = NumeralTickFormatter(format="0.0")
fe.xaxis[0].axis_label = "Incident particle energy"
fe.yaxis[0].axis_label = "Estimated \u03b2 in QA"
style_axes(fe, 37, 43, "#111111", "#111111", tick_width=2.5,
           xl_standoff=15, yl_standoff=13, xa_standoff=10, ya_standoff=5)
fe.xaxis[0].major_label_text_font_size = "36px"
for g in (fe.xgrid[0], fe.ygrid[0]):
    g.grid_line_color = "#b0b0b0"
    g.grid_line_width = 2
fe.add_layout(panel_letter("(e)", 10 ** 6.21, 4.306, units="data"), "right")
fe.add_layout(Label(x=10 ** 2.5405, y=3.1642, x_units="data", y_units="data", text="6",
                    text_font="Liberation Sans", text_font_size="42px",
                    text_color="#111111", text_baseline="top"), "left")

layout = column(row(column(fa), column(fb), column(fc)), row(column(fd), column(fe)))
open("out.html", "w").write(file_html(layout, INLINE))
